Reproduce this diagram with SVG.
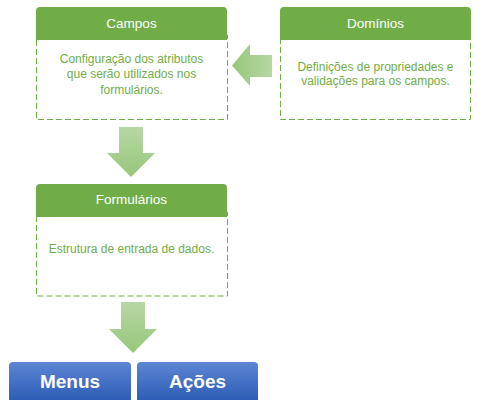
<svg xmlns="http://www.w3.org/2000/svg" width="483" height="407" viewBox="0 0 483 407">
<defs>
<linearGradient id="gDown" x1="0" y1="0" x2="0" y2="1">
<stop offset="0" stop-color="#b7d7a4"/>
<stop offset="1" stop-color="#97c67a"/>
</linearGradient>
<linearGradient id="gLeft" x1="1" y1="0" x2="0" y2="0">
<stop offset="0" stop-color="#b7d7a4"/>
<stop offset="1" stop-color="#97c67a"/>
</linearGradient>
<linearGradient id="gBlue" x1="0" y1="0" x2="0" y2="1">
<stop offset="0" stop-color="#5d86d3"/>
<stop offset="1" stop-color="#2d5db7"/>
</linearGradient>
<style>
.body{fill:#fff;stroke:#70ad47;stroke-width:1;stroke-dasharray:6 3}
.head{fill:#70ad47}
.ht{font-family:"Liberation Sans",Arial,sans-serif;font-size:13.5px;fill:#fff;text-anchor:middle}
.bt{font-family:"Liberation Sans",Arial,sans-serif;font-size:12px;fill:#70ad47;text-anchor:middle}
.blue{fill:url(#gBlue)}
.bl{font-family:"Liberation Sans",Arial,sans-serif;font-size:19px;font-weight:bold;fill:#fff;text-anchor:middle}
</style>
</defs>
<g id="campos">
<rect class="body" x="36.5" y="35" width="191" height="84.5"/>
<path class="head" d="M36,40 V11 Q36,7 40,7 H223 Q227,7 227,11 V40 Z"/>
<text class="ht" x="131.5" y="28">Campos</text>
<text class="bt" x="131.5" y="62.5">Configuração dos atributos</text>
<text class="bt" x="131.5" y="78">que serão utilizados nos</text>
<text class="bt" x="131.5" y="93.5">formulários.</text>
</g>
<g id="dominios">
<rect class="body" x="280.5" y="35" width="190" height="84.5"/>
<path class="head" d="M280,40 V11 Q280,7 284,7 H467 Q471,7 471,11 V40 Z"/>
<text class="ht" x="375.5" y="28">Domínios</text>
<text class="bt" x="375.5" y="71">Definições de propriedades e</text>
<text class="bt" x="375.5" y="84.5">validações para os campos.</text>
</g>
<g id="formularios">
<rect class="body" x="36.5" y="212" width="191" height="84"/>
<path class="head" d="M36,217 V188 Q36,184 40,184 H223 Q227,184 227,188 V217 Z"/>
<text class="ht" x="131.5" y="204">Formulários</text>
<text class="bt" x="131.5" y="253">Estrutura de entrada de dados.</text>
</g>
<g id="menus">
<path class="blue" d="M9,400 V366 Q9,362 13,362 H127 Q131,362 131,366 V400 Z"/>
<text class="bl" x="70" y="388">Menus</text>
</g>
<g id="acoes">
<path class="blue" d="M137,400 V366 Q137,362 141,362 H254 Q258,362 258,366 V400 Z"/>
<text class="bl" x="197.5" y="388">Ações</text>
</g>
<g id="connectors">
<path fill="url(#gLeft)" d="M272,55 H250 V44 L232,65.5 L250,86 V77 H272 Z"/>
<path fill="url(#gDown)" d="M119,127 H143 V153 H155 L131,177 L107,153 H119 Z"/>
<path fill="url(#gDown)" d="M121,302 H145 V329 H157 L133,353 L109,329 H121 Z"/>
</g>
</svg>
